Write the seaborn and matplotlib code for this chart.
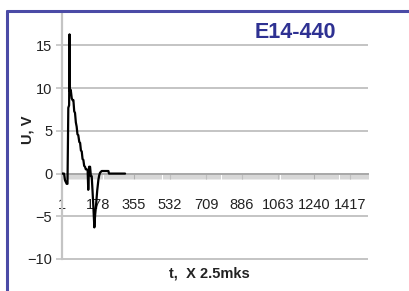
import matplotlib
matplotlib.use('Agg')
import matplotlib.pyplot as plt
from matplotlib.lines import Line2D
from matplotlib.ticker import MultipleLocator
import seaborn as sns
import pandas as pd

# ------------------------
# Data
# ------------------------
t_vals = [1, 11, 16, 24, 28, 32, 36, 38, 40, 44, 49, 53, 57, 61, 65, 69, 73, 77,
          81, 86, 90, 94, 98, 102, 106, 110, 114, 118, 122, 127, 130, 134, 139,
          143, 147, 151, 155, 160, 164, 168, 174, 180, 184, 188, 196, 212, 229,
          232, 270, 311]
u_vals = [0.0, 0.0, -0.8, -1.2, -1.2, 7.7, 8.0, 16.3, 9.6, 9.8, 8.8, 8.6, 8.6,
          7.3, 7.1, 6.0, 5.5, 4.6, 4.5, 3.7, 3.6, 2.7, 2.6, 1.7, 1.6, 0.9, 0.8,
          0.5, 0.5, 0.4, -1.9, 0.8, 0.8, -0.3, -0.3, -2.0, -3.8, -6.3, -4.8,
          -3.8, -2.0, -0.7, -0.2, 0.1, 0.3, 0.3, 0.3, 0.0, 0.0, 0.0]

x_ticks = [1, 178, 355, 532, 709, 886, 1063, 1240, 1417]
y_ticks = [-10, -5, 0, 5, 10, 15]

title = 'E14-440'
x_label = 't,  X 2.5mks'
y_label = 'U, V'

df = pd.DataFrame({'t': t_vals, 'u': u_vals})

# ------------------------
# Style
# ------------------------
sns.set_style('white')
plt.rcParams['font.family'] = ['Liberation Sans', 'DejaVu Sans']

grid_col = '#c4c4c4'
text_col = '#222222'
x_max = 1505

fig = plt.figure(figsize=(4.10, 2.91), dpi=100)
ax = fig.add_axes([62 / 410, 32 / 291, 306 / 410, 246 / 291])

# gridlines (Excel style, skip the zero line which is the axis)
grid_levels = [v for v in y_ticks if v != 0]
ax.hlines(grid_levels, 1, x_max, colors=grid_col, lw=1.4, zorder=1, clip_on=False)

sns.lineplot(data=df, x='t', y='u', color='black', lw=1.6, ax=ax,
             estimator=None, sort=False, zorder=3)

ax.set_xlim(1, x_max)
ax.set_ylim(-10, 18.8)

# spines
for s in ['top', 'right']:
    ax.spines[s].set_visible(False)
ax.spines['left'].set_color(grid_col)
ax.spines['left'].set_linewidth(1.6)
ax.spines['bottom'].set_position(('data', 0))
ax.spines['bottom'].set_color('#a8a8a8')
ax.spines['bottom'].set_linewidth(1.4)

# ticks
ax.set_yticks(y_ticks)
ax.set_xticks(x_ticks)
ax.xaxis.set_minor_locator(MultipleLocator(5))
ax.tick_params(left=True, bottom=True, which='both')
ax.tick_params(axis='y', direction='out', length=4, width=1.2, color=grid_col,
               labelsize=10.5, labelcolor=text_col, pad=3)
ax.tick_params(axis='x', which='major', direction='out', length=3.5, width=0.8,
               color='#b0b0b0', labelsize=10.5, labelcolor=text_col, pad=14)
ax.tick_params(axis='x', which='minor', direction='out', length=3.5, width=0.5,
               color='#c6c6c6')

# labels
ax.set_xlabel(x_label, fontsize=10.5, fontweight='bold', color=text_col)
ax.xaxis.set_label_coords(0.48, -0.057)
ax.xaxis.label.set_va('center')
ax.set_ylabel(y_label, fontsize=10.5, fontweight='bold', color=text_col)
ax.yaxis.set_label_coords(-35 / 306, (259 - 130) / 246)
ax.yaxis.label.set_va('center')

fig.text(295 / 410, 1 - 32 / 291, title, fontsize=15.5, fontweight='bold',
         color='#2e3192', ha='center', va='center')

# blue frame (left and top edges)
frame_col = '#4b4ba6'
fig.add_artist(Line2D([7 / 410, 7 / 410], [0, 1 - 11 / 291], color=frame_col,
                      lw=2.2, transform=fig.transFigure))
fig.add_artist(Line2D([7 / 410, 1], [1 - 11 / 291, 1 - 11 / 291], color=frame_col,
                      lw=2.2, transform=fig.transFigure))

plt.savefig('out.png', dpi=100)
plt.close()
